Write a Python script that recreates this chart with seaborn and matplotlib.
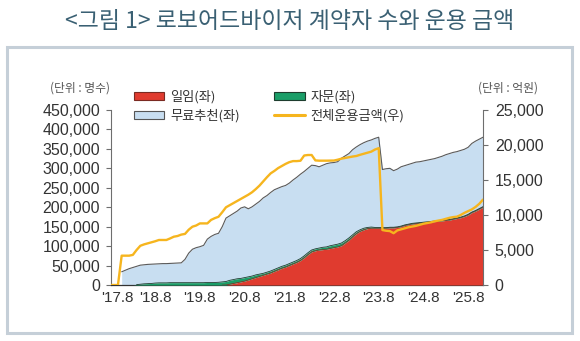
import numpy as np
import pandas as pd
import matplotlib
matplotlib.use("Agg")
import matplotlib.pyplot as plt
import matplotlib.transforms as mtransforms
from matplotlib.patches import Rectangle, Patch
from matplotlib.lines import Line2D
import seaborn as sns

# ---------------- data (monthly, index 0 = 2017.8 ... 100 = 2025.12) ----------------
months = list(range(101))
tick_months = [0, 12, 24, 36, 48, 60, 72, 84, 96]
tick_labels = ["'17.8", "'18.8", "'19.8", "'20.8", "'21.8", "'22.8", "'23.8", "'24.8", "'25.8"]

# 일임(좌), thousand persons
discretionary = [0] * 30 + [
    0, 0, 2, 4, 6, 8, 10, 13, 16, 19,
    22, 25, 28, 31, 35, 39, 43, 46, 50, 54,
    58, 63, 70, 78, 85, 88, 90, 91, 92, 94,
    96, 98, 101, 108, 115, 124, 132, 138, 142, 145,
    146, 146, 146, 146, 146, 147, 147, 148, 150, 153,
    155, 157, 158, 159, 160, 161, 162, 163, 164, 165,
    166, 167, 169, 171, 173, 176, 180, 186, 190, 195,
    200]

# 자문(좌), thousand persons (band thickness)
advisory = [0, 0, 0, 0, 0, 0, 0, 1, 2, 3,
            3.5, 4, 5, 5.5, 5.5, 5.5, 6, 6, 6, 6,
            6, 6, 6, 6, 6, 6, 6.5, 6.5, 6.5, 7,
            8, 9, 10, 10, 10, 9, 9, 8, 7, 7,
            6, 5, 5, 5, 5, 5, 5, 5, 5, 5,
            5, 5, 5, 5, 5, 5, 5, 6, 6, 7,
            7, 7, 7, 6, 6, 5, 5, 4, 4, 3,
            3, 2, 2, 1.5, 1.5, 1.5, 1.5, 1.5, 1.5, 1.5,
            1.5, 1.5, 1.5, 1.5, 1.5, 1.5, 1.5, 1.5, 1.5, 1.5,
            1.5, 1.5, 1.5, 1.5, 1.5, 1.5, 1.5, 1.5, 1.5, 1.5,
            1.5]

# 계약자 수 합계 (top of 무료추천 band), thousand persons
total_users = [np.nan, np.nan, np.nan, 34, 38, 42, 45, 48, 51, 52,
               53, 53.5, 54, 54.5, 55, 55, 55.5, 56, 56.5, 57,
               66, 82, 92, 96, 98.5, 102, 118, 125, 130, 133,
               150, 172, 178, 184, 190, 198, 201, 196, 201, 208,
               215, 224, 230, 238, 245, 249, 253, 256, 262, 270,
               277, 285, 292, 300, 308, 307, 304, 308, 312, 314,
               315, 317, 326, 332, 338, 348, 355, 361, 366, 370,
               373, 377, 380, 297, 299, 300, 294, 298, 304, 307,
               310, 313, 316, 317, 319, 321, 323, 325, 328, 331,
               335, 338, 341, 343, 346, 349, 354, 364, 370, 375,
               380]

# 전체운용금액(우), 억원
aum = [0, 0, 0, 4190, 4190, 4190, 4300, 5000, 5600, 5800,
       5950, 6100, 6250, 6430, 6430, 6430, 6650, 6900, 7000, 7200,
       7300, 7900, 8330, 8500, 8800, 8800, 8800, 9300, 9550, 9750,
       10400, 11100, 11400, 11700, 12000, 12300, 12600, 12900, 13250, 13700,
       14200, 14800, 15400, 15950, 16300, 16700, 17000, 17300, 17550, 17700,
       17700, 17750, 18500, 18570, 18570, 17800, 17760, 17760, 17760, 17770,
       17780, 17900, 18050, 18150, 18250, 18350, 18430, 18600, 18750, 18900,
       19050, 19350, 19550, 7850, 7750, 7700, 7400, 7800, 7950, 8100,
       8250, 8350, 8450, 8600, 8750, 8850, 8950, 9100, 9200, 9300,
       9450, 9600, 9700, 9760, 10000, 10300, 10550, 10800, 11150, 11600,
       12200]

df = pd.DataFrame({
    "month": months,
    "일임": np.array(discretionary, float) * 1000,
    "자문": np.array(advisory, float) * 1000,
    "합계": np.array(total_users, float) * 1000,
    "전체운용금액": np.array(aum, float),
})
df["일임+자문"] = df["일임"] + df["자문"]

# ---------------- style ----------------
sns.set_theme(style="white")
NUM_FONT = ["Liberation Sans", "DejaVu Sans"]
KR_FONT = ["Noto Sans CJK KR", "DejaVu Sans"]
plt.rcParams["font.family"] = KR_FONT

RED = "#e03b2f"
GREEN = "#1a9e68"
BLUE = "#c8def1"
GRAY = "#5a5a5a"
YELLOW = "#f6b51e"
AX = "#6e6e6e"
TXT = "#333333"

W, H = 580, 341
fig = plt.figure(figsize=(W / 100, H / 100), dpi=100)
fig.patch.set_facecolor("white")

def fx(px):
    return px / W

def fy(py):
    return 1 - py / H

ax = fig.add_axes([fx(110.5), fy(285), fx(483) - fx(110.5), fy(110) - fy(285)])
ax.set_facecolor("none")

# stacked areas
x = df["month"].to_numpy()
ax.fill_between(x, 0, df["일임"], color=RED, linewidth=0, zorder=3)
ax.plot(x[30:], df["일임"].to_numpy()[30:], color="#8a2a20", lw=0.5, zorder=3.2)
ax.fill_between(x, df["일임"], df["일임+자문"], color=GREEN, linewidth=0, zorder=3)
ax.plot(x[7:], df["일임+자문"].to_numpy()[7:], color="#1d3d2e", lw=0.6, zorder=3.3)
ax.fill_between(x, df["일임+자문"], df["합계"], color=BLUE, linewidth=0, zorder=2)
sns.lineplot(data=df, x="month", y="합계", ax=ax, color=GRAY, lw=0.8, zorder=3.5)

ax.set_xlim(0, 100)
ax.set_ylim(0, 450000)
ax.set_yticks(range(0, 450001, 50000))
ax.set_yticklabels([f"{v:,}" for v in range(0, 450001, 50000)])
ax.set_xticks(tick_months)
ax.set_xticklabels(tick_labels)
ax.set_xlabel("")
ax.set_ylabel("")
for sp in ["top", "right"]:
    ax.spines[sp].set_visible(False)
ax.spines["left"].set_color(AX)
ax.spines["left"].set_linewidth(0.8)
ax.spines["bottom"].set_color("#333333")
ax.spines["bottom"].set_linewidth(0.9)
ax.tick_params(axis="y", which="major", direction="out", length=3.5, width=0.8,
               color=AX, pad=4, labelsize=11.5, labelcolor=TXT, left=True)
ax.tick_params(axis="x", length=0, pad=4, labelsize=11, labelcolor=TXT)
for lab in ax.get_yticklabels() + ax.get_xticklabels():
    lab.set_family(NUM_FONT)
# shift first x label right (as in reference)
first = ax.get_xticklabels()[0]
first.set_transform(first.get_transform() + mtransforms.ScaledTranslation(7 / 100, 0, fig.dpi_scale_trans))

# right axis
ax2 = ax.twinx()
sns.lineplot(data=df, x="month", y="전체운용금액", ax=ax2, color=YELLOW, lw=1.7, zorder=5)
ax2.set_ylim(0, 25000)
ax2.set_yticks(range(0, 25001, 5000))
ax2.set_yticklabels([f"{v:,}" for v in range(0, 25001, 5000)])
ax2.set_xlim(0, 100)
ax2.set_ylabel("")
ax2.set_xlabel("")
for sp in ["top", "left", "bottom"]:
    ax2.spines[sp].set_visible(False)
ax2.spines["right"].set_color(AX)
ax2.spines["right"].set_linewidth(0.8)
ax2.tick_params(axis="y", direction="out", length=3.5, width=0.8, color=AX, pad=5,
                labelsize=11.5, labelcolor=TXT, right=True)
for lab in ax2.get_yticklabels():
    lab.set_family(NUM_FONT)

# legend
handles = [
    Patch(facecolor=RED, edgecolor="#7a2a22", linewidth=0.8, label="일임(좌)"),
    Patch(facecolor=BLUE, edgecolor="#555555", linewidth=0.8, label="무료추천(좌)"),
    Patch(facecolor=GREEN, edgecolor="#1d3d2e", linewidth=0.8, label="자문(좌)"),
    Line2D([0], [0], color=YELLOW, lw=2.2, label="전체운용금액(우)"),
]
leg = fig.legend(handles=handles, ncol=2, loc="upper left",
                 bbox_to_anchor=(fx(134), fy(90)), frameon=False,
                 fontsize=9.5, handlelength=2.3, handleheight=0.6, handletextpad=0.45,
                 columnspacing=2.6, labelspacing=0.45, borderpad=0, borderaxespad=0)
for t in leg.get_texts():
    t.set_color(TXT)

# unit labels
fig.text(fx(80), fy(88), "(단위 : 명수)", ha="center", va="center", fontsize=8.5, color="#555555")
fig.text(fx(508), fy(88), "(단위 : 억원)", ha="center", va="center", fontsize=8.5, color="#555555")

# title
fig.text(0.5, fy(21), "<그림 1> 로보어드바이저 계약자 수와 운용 금액", ha="center", va="center",
         fontsize=16.5, color="#3a6073", fontweight="normal")

# frame
fig.patches.append(Rectangle((fx(7), fy(333)), fx(572) - fx(7), fy(47) - fy(333),
                             transform=fig.transFigure, fill=False,
                             edgecolor="#c5cfd8", linewidth=2.2, zorder=0))

fig.savefig("out.png", dpi=100, facecolor="white")
